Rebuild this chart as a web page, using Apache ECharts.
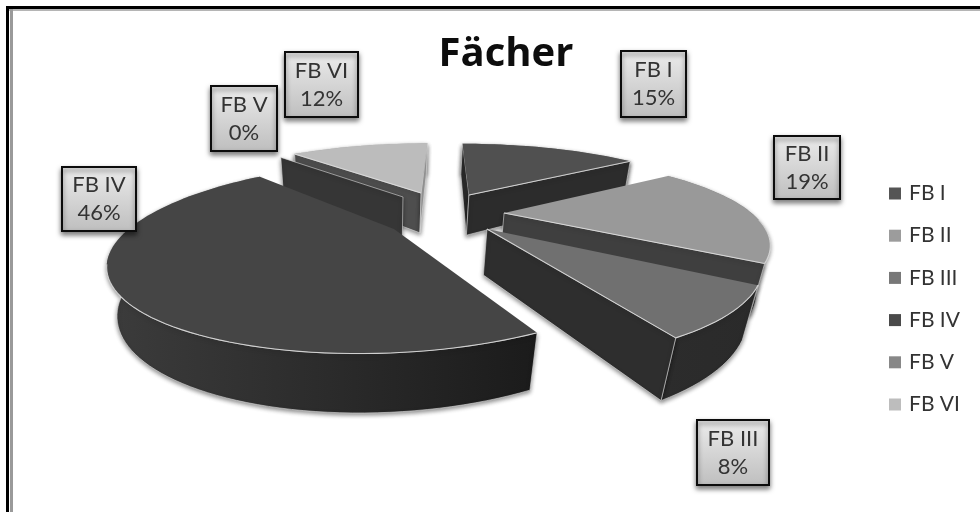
<!DOCTYPE html>
<html>
<head>
<meta charset="utf-8">
<style>html,body{margin:0;padding:0;background:#fff}#chart{width:980px;height:512px}</style>
<script src="https://cdn.jsdelivr.net/npm/echarts@6/dist/echarts.min.js"></script>
</head>
<body>
<div id="chart"></div>
<script>
// Shares per department, in percent
const categories = ['FB I', 'FB II', 'FB III', 'FB IV', 'FB V', 'FB VI'];
const shares = [15, 19, 8, 46, 0, 12];

// Fill colours per slice
const topColors = ['#505050', '#999999', '#707070', '#454545', '#858585', '#bcbcbc'];
const legendColors = ['#555555', '#9c9c9c', '#787878', '#4a4a4a', '#888888', '#bdbdbd'];
const startWallColors = ['#2a2a2a', '#3d3d3d', '#2d2d2d', '#333333', '#363636', '#4e4e4e'];
const endWallColors = ['#2c2c2c', '#3f3f3f', '#2e2e2e', '#333333', '#363636', '#9c9c9c'];
const rimLeftColors = ['#2c2c2c', '#333333', '#2c2c2c', '#3c3c3c', '#333333', '#888888'];
const rimRightColors = ['#2c2c2c', '#333333', '#2a2a2a', '#1b1b1b', '#333333', '#888888'];

// Exploded layout of each slice in pie-radius units
const offsetX = [0.111, 0.03, 0.067, -0.333, -0.193, -0.112];
const offsetZ = [-0.427, -0.157, 0.049, 0.049, -0.396, -0.46];
const radiusScale = [1.15, 1.05, 1, 1.05, 1.1, 1.13];
const centerX = [445, 497, 470, 478, 445, 445];
const depthScale = [0.363, 0.363, 0.363, 0.28, 0.363, 0.363];

// Paint order, far slices first
const paintOrder = [5, 4, 0, 1, 2, 3];

// Label boxes: left, top, width, height
const labelBoxes = [[621, 51, 65, 66], [774, 136, 66, 63], [697, 420, 72, 65], [62, 167, 74, 64], [211, 86, 66, 65], [285, 52, 73, 65]];

// Perspective camera
const CENTER_Y = 225, RX = 249, RY = 81;
const DROP_X = 380, DROP_Y = 1600, THICK = 0.033;

const total = shares.reduce((a, b) => a + b, 0);
const startAngles = [];
shares.reduce((acc, v, i) => { startAngles[i] = acc; return acc + v / total * 360; }, 0);

function topPoint(i, deg, r) {
  const a = deg * Math.PI / 180;
  const X = offsetX[i] + Math.sin(a) * r * radiusScale[i];
  const Z = offsetZ[i] - Math.cos(a) * r * radiusScale[i];
  const s = 1 / (1 - Z * depthScale[i]);
  return { x: centerX[i] + RX * X * s, y: CENTER_Y + RY * Z * s, s: s };
}
function lowered(p) {
  const f = THICK * p.s;
  return [p.x + (DROP_X - p.x) * f, p.y + (DROP_Y - p.y) * f];
}
function arcPoints(i, a0, a1) {
  const n = Math.max(1, Math.ceil((a1 - a0) / 2));
  const pts = [];
  for (let k = 0; k <= n; k++) pts.push(topPoint(i, a0 + (a1 - a0) * k / n, 1));
  return pts;
}
function wallShape(i, deg) {
  const c = topPoint(i, deg, 0), e = topPoint(i, deg, 1);
  return [[c.x, c.y], [e.x, e.y], lowered(e), lowered(c)];
}

const edgeColor = 'rgba(222,222,222,0.85)';
const softShadow = { shadowBlur: 4, shadowColor: 'rgba(0,0,0,0.45)', shadowOffsetY: 2 };

function renderSlice(i) {
  return function (params, api) {
    const a0 = startAngles[i];
    const a1 = a0 + api.value(0) / total * 360;
    const center = topPoint(i, a0, 0);
    const arc = arcPoints(i, a0, a1);
    const children = [];
    const polygon = (points, fill, extra) => children.push({
      type: 'polygon', silent: true, shape: { points: points },
      style: Object.assign({ fill: fill }, extra || {})
    });
    const line = (points, width) => children.push({
      type: 'polyline', silent: true, shape: { points: points },
      style: { fill: null, stroke: edgeColor, lineWidth: width || 1 }
    });

    // Rim wall along the outer arc
    if (a1 > a0) {
      const rim = arc.map(p => [p.x, p.y]).concat(arc.map(lowered).reverse());
      polygon(rim, {
        type: 'linear', x: 0, y: 0, x2: 1, y2: 0,
        colorStops: [{ offset: 0, color: rimLeftColors[i] }, { offset: 1, color: rimRightColors[i] }]
      }, Object.assign({ stroke: edgeColor, lineWidth: 0.7 }, softShadow));
    }
    // Radial walls that face the viewer
    if (a0 >= 180 || a0 === 0) {
      polygon(wallShape(i, a0), startWallColors[i], Object.assign({ stroke: edgeColor, lineWidth: 0.7 }, softShadow));
    }
    if (a1 > a0 && a1 <= 180 || a1 === 360) {
      polygon(wallShape(i, a1), endWallColors[i], Object.assign({ stroke: edgeColor, lineWidth: 0.7 }, softShadow));
    }
    // Top face and its lit edges
    if (a1 > a0) {
      polygon([[center.x, center.y]].concat(arc.map(p => [p.x, p.y])), topColors[i]);
      const tail = arc[arc.length - 1];
      if (a1 <= 180) line([[center.x, center.y], [tail.x, tail.y]], 1.1);
      if (a0 >= 180) line([[center.x, center.y], [arc[0].x, arc[0].y]], 1.1);
      const front = arc.filter((p, k) => {
        const deg = a0 + (a1 - a0) * k / (arc.length - 1);
        return deg > 95 && deg < 250;
      }).map(p => [p.x, p.y]);
      if (front.length > 1) line(front, 1.1);
    }
    return { type: 'group', children: children };
  };
}

function renderLabel(params, api) {
  const i = params.dataIndex;
  const b = labelBoxes[i];
  return {
    type: 'group', silent: true,
    children: [{
      type: 'rect',
      shape: { x: b[0], y: b[1], width: b[2], height: b[3] },
      style: {
        fill: {
          type: 'linear', x: 0, y: 0, x2: 0, y2: 1,
          colorStops: [{ offset: 0, color: '#ececec' }, { offset: 1, color: '#bebebe' }]
        },
        stroke: '#0c0c0c', lineWidth: 2,
        shadowBlur: 5, shadowColor: 'rgba(0,0,0,0.5)', shadowOffsetY: 3
      }
    }, {
      type: 'text',
      style: {
        x: b[0] + b[2] / 2, y: b[1] + b[3] / 2,
        text: categories[i] + '\n' + api.value(0) + '%',
        align: 'center', verticalAlign: 'middle',
        font: '22px Lato', lineHeight: 28, fill: '#333333'
      }
    }]
  };
}

const sliceSeries = categories.map((name, i) => ({
  type: 'custom',
  name: name,
  coordinateSystem: 'none',
  z: 2 + paintOrder.indexOf(i),
  itemStyle: { color: legendColors[i] },
  data: [[shares[i]]],
  renderItem: renderSlice(i)
}));

const chart = echarts.init(document.getElementById('chart'), null, { renderer: 'canvas' });
chart.setOption({
  animation: false,
  backgroundColor: '#ffffff',
  title: {
    text: 'Fächer', left: 501, top: 30, textAlign: 'center',
    textStyle: { fontFamily: 'Open Sans', fontWeight: 'bold', fontSize: 40, color: '#0d0d0d' }
  },
  legend: {
    orient: 'vertical', left: 889, top: 183, padding: 0, itemWidth: 12, itemHeight: 12, itemGap: 21.2,
    icon: 'rect', selectedMode: false,
    textStyle: { fontFamily: 'Lato', fontSize: 21, color: '#333333', padding: [0, 0, 0, 3] },
    data: categories.map((name, i) => ({ name: name, itemStyle: { color: legendColors[i] } }))
  },
  graphic: [
    { type: 'rect', silent: true, shape: { x: 6, y: 6, width: 974, height: 3 }, style: { fill: '#000' } },
    { type: 'rect', silent: true, shape: { x: 9, y: 9, width: 971, height: 2 }, style: { fill: '#b5b5b5' } },
    { type: 'rect', silent: true, shape: { x: 6, y: 6, width: 3, height: 506 }, style: { fill: '#000' } },
    { type: 'rect', silent: true, shape: { x: 10, y: 9, width: 3, height: 503 }, style: { fill: '#9a9a9a' } }
  ],
  series: sliceSeries.concat([{
    type: 'custom',
    name: 'labels',
    coordinateSystem: 'none',
    z: 20,
    data: shares.map(v => [v]),
    renderItem: renderLabel
  }])
});
</script>
</body>
</html>
